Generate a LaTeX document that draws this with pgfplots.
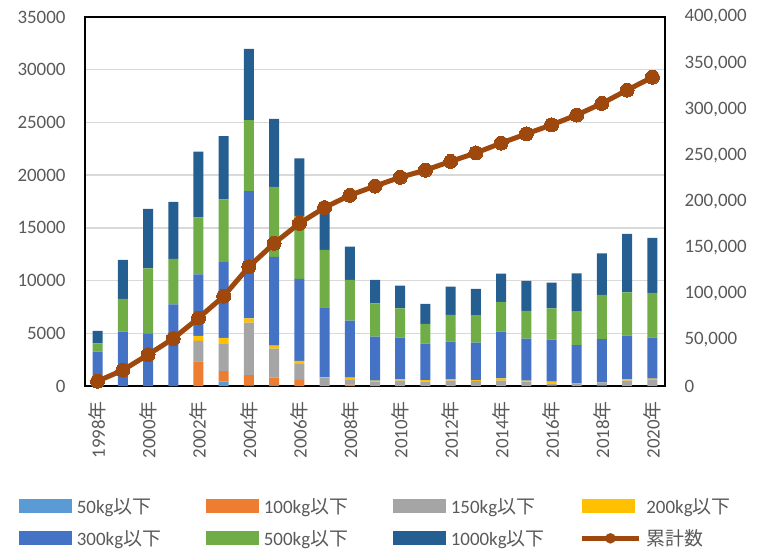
\documentclass[border=0pt]{standalone}
\usepackage{fontspec}
\setmainfont{Carlito}
\newfontfamily\cjk{Noto Sans CJK JP}
\usepackage{pgfplots}
\usepackage{pgfplotstable}
\pgfplotsset{compat=1.18}

\definecolor{cA}{HTML}{5B9BD5}
\definecolor{cB}{HTML}{ED7D31}
\definecolor{cC}{HTML}{A5A5A5}
\definecolor{cD}{HTML}{FFC000}
\definecolor{cE}{HTML}{4472C4}
\definecolor{cF}{HTML}{70AD47}
\definecolor{cG}{HTML}{255E91}
\definecolor{cline}{HTML}{9E480E}
\definecolor{tick}{HTML}{595959}
\definecolor{gridc}{HTML}{D9D9D9}

% x = 0..22 for 1998..2020
\pgfplotstableread{
x w50 w100 w150 w200 w300 w500 w1000 cum
0  0   0    0    0   3257  790  1170  5217
1  0   0    0    0   5154  3099 3700  17170
2  0   0    0    0   4996  6166 5628  33960
3  0   0    0    0   7747  4300 5407  51414
4  0   2330 1940 474 5850  5407 6229  73643
5  410 1000 2630 530 7180  5944 6008  97358
6  30  1010 4965 411 12079 6735 6735  129326
7  100 690  2751 285 8411  6640 6451  154654
8  0   570  1580 222 7778  5976 5471  176251
9  0   0    780  50  6632  5439 4299  193451
10 0   120  450  220 5408  3857 3162  206668
11 0   0    411  95  4174  3162 2213  216723
12 0   0    506  126 3953  2783 2150  226241
13 0   0    411  158 3447  1865 1898  234020
14 0   0    506  158 3541  2530 2688  243443
15 0   0    474  95  3542  2561 2529  252644
16 0   0    506  221 4427  2814 2688  263300
17 0   0    411  95  3984  2625 2845  273260
18 0   50   200  160 3985  2973 2434  283062
19 0   0    250  0   3639  3162 3637  293750
20 50  0    300  0   4108  4174 3953  306335
21 0   0    506  130 4139  4110 5534  320754
22 0   0    635  60  3890  4237 5217  334793
}\sizes

\begin{document}
\begin{tikzpicture}
\pgfplotsset{
  every axis/.append style={
    at={(0,0)}, anchor=south west,
    scale only axis, width=580bp, height=369bp,
    xmin=-0.5, xmax=22.5,
    font=\fontsize{19}{22}\selectfont,
    tick label style={text=tick},
    /pgf/number format/assume math mode=true,
    major tick length=0pt,
    scaled y ticks=false,
  },
}
\begin{axis}[
    ymin=0, ymax=35000,
    ytick={0,5000,...,35000},
    /pgf/number format/1000 sep={},
    ymajorgrids, grid style={draw=gridc, line width=1.3bp},
    axis line style={black, line width=1.4bp},
    ybar stacked, bar width=10bp,
    xtick={0,2,...,22},
    xticklabels={1998{\cjk 年},2000{\cjk 年},2002{\cjk 年},2004{\cjk 年},2006{\cjk 年},2008{\cjk 年},2010{\cjk 年},2012{\cjk 年},2014{\cjk 年},2016{\cjk 年},2018{\cjk 年},2020{\cjk 年}},
    xticklabel style={rotate=90, anchor=east, inner sep=0pt},
    xticklabel shift=15bp,
    yticklabel shift=16bp,
    legend image code/.code={\fill[#1] (0bp,-7bp) rectangle (53bp,7bp);},
    legend columns=4,
    legend cell align=left,
    legend style={at={(axis description cs:0,0)}, anchor=north west,
      xshift=-66.5bp, yshift=-110bp, draw=none, fill=none, inner sep=0pt,
      text=tick, nodes={inner sep=2bp}, row sep=11bp,
      /tikz/every even column/.append style={column sep=18bp}},
]
\addplot[fill=cA, draw=none] table[x=x, y=w50] {\sizes};
\addlegendentry{\makebox[112bp][l]{\,50kg{\cjk 以下}}}
\addplot[fill=cB, draw=none] table[x=x, y=w100] {\sizes};
\addlegendentry{\makebox[112bp][l]{\,100kg{\cjk 以下}}}
\addplot[fill=cC, draw=none] table[x=x, y=w150] {\sizes};
\addlegendentry{\makebox[112bp][l]{\,150kg{\cjk 以下}}}
\addplot[fill=cD, draw=none] table[x=x, y=w200] {\sizes};
\addlegendentry{\makebox[112bp][l]{\,200kg{\cjk 以下}}}
\addplot[fill=cE, draw=none] table[x=x, y=w300] {\sizes};
\addlegendentry{\makebox[112bp][l]{\,300kg{\cjk 以下}}}
\addplot[fill=cF, draw=none] table[x=x, y=w500] {\sizes};
\addlegendentry{\makebox[112bp][l]{\,500kg{\cjk 以下}}}
\addplot[fill=cG, draw=none] table[x=x, y=w1000] {\sizes};
\addlegendentry{\makebox[112bp][l]{\,1000kg{\cjk 以下}}}
\addlegendimage{legend image code/.code={
  \draw[cline, line width=4.5bp] (0bp,0bp) -- (57bp,0bp);
  \fill[cline] (28.5bp,0bp) circle (5bp);}}
\addlegendentry{\makebox[112bp][l]{\,{\cjk 累計数}}}
\end{axis}

\begin{axis}[
    ymin=0, ymax=400000,
    ytick={0,50000,100000,150000,200000,250000,300000,350000,400000},
    yticklabels={0,{50,000},{100,000},{150,000},{200,000},{250,000},{300,000},{350,000},{400,000}},
    axis x line=none,
    axis y line*=right,
    y axis line style={draw=none},
    yticklabel style={anchor=west},
    yticklabel shift=16bp,
]
\addplot[cline, line width=5bp, mark=*, mark size=7bp,
  mark options={solid, fill=cline, draw=cline, line width=0pt}]
  table[x=x, y=cum] {\sizes};
\end{axis}
\pgfresetboundingbox
\useasboundingbox (-85bp,-165bp) rectangle (674bp,386bp);
\end{tikzpicture}
\end{document}
